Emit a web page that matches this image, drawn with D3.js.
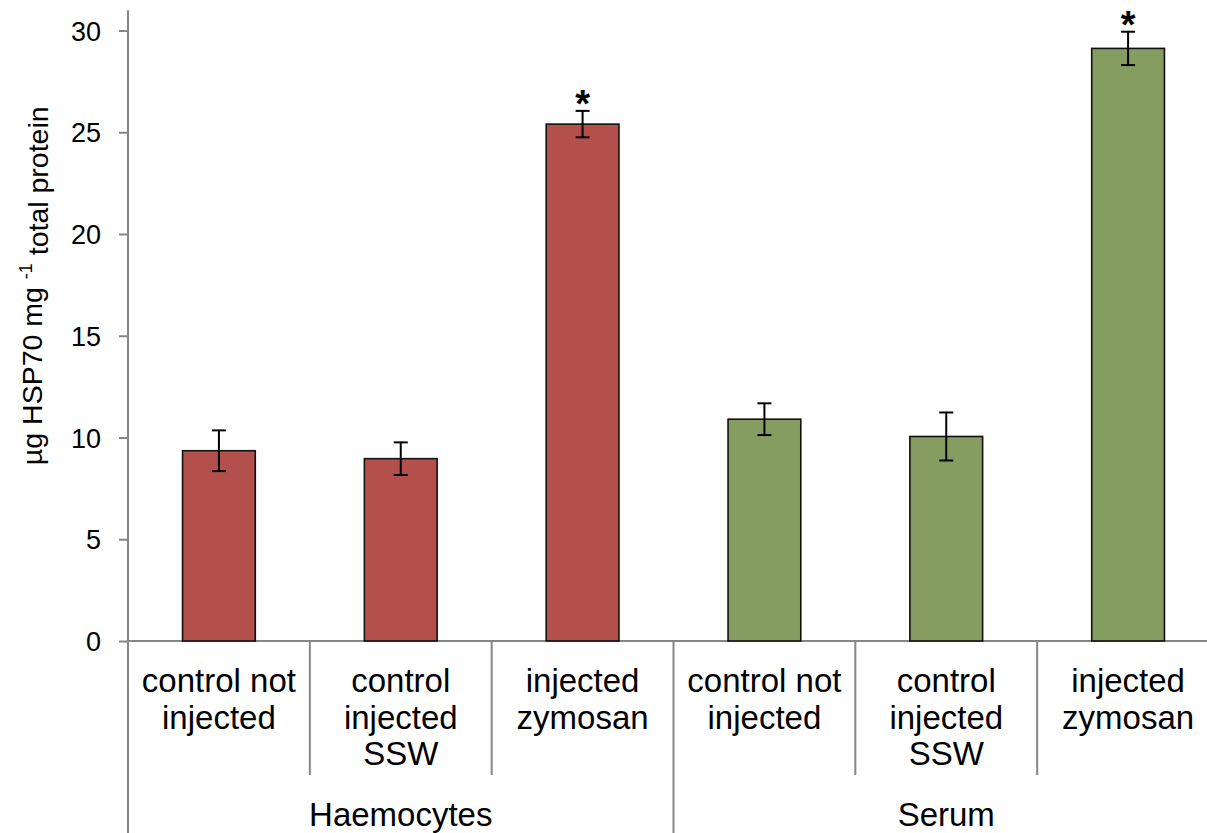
<!DOCTYPE html>
<html lang="en">
<head>
    <meta charset="UTF-8">
    <title>HSP70 in haemocytes and serum</title>
    <script src="https://d3js.org/d3.v7.min.js"></script>
    <style>
        body { margin: 0; background: #fff; }
        text { font-family: "Liberation Sans", Arial, sans-serif; fill: #000; }
    </style>
</head>
<body>
    <svg width="1207" height="833"></svg>

    <script>
        // data
        const groups = ["Haemocytes", "Serum"];
        const treatments = [
            ["control not", "injected"],
            ["control", "injected", "SSW"],
            ["injected", "zymosan"]
        ];
        const haemocyteMeans = [9.35, 8.96, 25.4];
        const haemocyteErrors = [1.0, 0.8, 0.65];
        const serumMeans = [10.9, 10.05, 29.12];
        const serumErrors = [0.78, 1.18, 0.82];
        const significant = [false, false, true];
        const yTicks = [0, 5, 10, 15, 20, 25, 30];
        const groupColors = ["#B4504C", "#869D62"];

        const width = 1207;
        const height = 833;
        const margin = {top: 30.5, left: 128, bottom: 192};
        const plotRight = 1219;

        const svg = d3.select("svg")
            .attr("width", width)
            .attr("height", height);

        // flatten into one row per bar
        const rows = [];
        groups.forEach((g, gi) => {
            const means = gi === 0 ? haemocyteMeans : serumMeans;
            const errs = gi === 0 ? haemocyteErrors : serumErrors;
            treatments.forEach((t, ti) => {
                rows.push({
                    id: gi * treatments.length + ti,
                    group: gi,
                    label: t,
                    value: means[ti],
                    err: errs[ti],
                    star: significant[ti]
                });
            });
        });

        const x = d3.scaleBand()
            .domain(rows.map(d => d.id))
            .range([margin.left, plotRight])
            .padding(0);

        const y = d3.scaleLinear()
            .domain([0, 30])
            .range([height - margin.bottom, margin.top]);

        const barW = x.bandwidth() * 0.4;
        const axisColor = "#868686";

        // y axis
        const yAxis = svg.append("g")
            .attr("transform", `translate(${margin.left},0)`)
            .call(d3.axisLeft(y).tickValues(yTicks).tickSizeInner(9).tickSizeOuter(0).tickPadding(18));
        yAxis.select(".domain").remove();
        yAxis.selectAll(".tick line").attr("stroke", axisColor).attr("stroke-width", 2);
        yAxis.selectAll(".tick text")
            .style("font-size", "27px")
            .attr("dy", "0.36em")
            .attr("fill", "#000");

        // vertical axis line runs from the top down to the bottom of the category labels
        svg.append("line")
            .attr("x1", margin.left).attr("x2", margin.left)
            .attr("y1", y(31)).attr("y2", height)
            .attr("stroke", axisColor).attr("stroke-width", 2);

        // horizontal axis line
        svg.append("line")
            .attr("x1", margin.left).attr("x2", plotRight)
            .attr("y1", y(0)).attr("y2", y(0))
            .attr("stroke", axisColor).attr("stroke-width", 2);

        // category separators: short inside a group, long between groups
        rows.slice(1).forEach(d => {
            const gx = x(d.id);
            const groupEdge = d.id % treatments.length === 0;
            svg.append("line")
                .attr("x1", gx).attr("x2", gx)
                .attr("y1", y(0))
                .attr("y2", groupEdge ? height : y(0) + 134)
                .attr("stroke", axisColor).attr("stroke-width", 2);
        });

        // bars
        svg.selectAll(".bar")
            .data(rows)
            .enter()
            .append("rect")
            .attr("class", "bar")
            .attr("x", d => x(d.id) + (x.bandwidth() - barW) / 2)
            .attr("y", d => y(d.value))
            .attr("width", barW)
            .attr("height", d => y(0) - y(d.value))
            .attr("fill", d => groupColors[d.group])
            .attr("stroke", "#111")
            .attr("stroke-width", 1.6);

        // error bars
        const cx = d => x(d.id) + x.bandwidth() / 2;
        const capW = 7;
        const eb = svg.selectAll(".err")
            .data(rows)
            .enter()
            .append("g")
            .attr("class", "err")
            .attr("stroke", "#000")
            .attr("stroke-width", 2);
        eb.append("line")
            .attr("x1", cx).attr("x2", cx)
            .attr("y1", d => y(d.value + d.err))
            .attr("y2", d => y(d.value - d.err));
        eb.append("line")
            .attr("x1", d => cx(d) - capW).attr("x2", d => cx(d) + capW)
            .attr("y1", d => y(d.value + d.err)).attr("y2", d => y(d.value + d.err));
        eb.append("line")
            .attr("x1", d => cx(d) - capW).attr("x2", d => cx(d) + capW)
            .attr("y1", d => y(d.value - d.err)).attr("y2", d => y(d.value - d.err));

        // significance asterisks
        svg.selectAll(".star")
            .data(rows.filter(d => d.star))
            .enter()
            .append("text")
            .attr("class", "star")
            .attr("x", cx)
            .attr("y", d => y(d.value + d.err) + 6)
            .attr("text-anchor", "middle")
            .style("font-size", "38px")
            .style("font-weight", "bold")
            .text("*");

        // category labels (multi-line)
        const labels = svg.selectAll(".cat")
            .data(rows)
            .enter()
            .append("text")
            .attr("class", "cat")
            .attr("text-anchor", "middle")
            .style("font-size", "33px");
        labels.selectAll("tspan")
            .data(d => d.label.map(line => ({line, cx: cx(d)})))
            .enter()
            .append("tspan")
            .attr("x", d => d.cx)
            .attr("y", (d, i) => y(0) + 51 + i * 36.5)
            .text(d => d.line);

        // group labels
        groups.forEach((g, gi) => {
            const first = x(gi * treatments.length);
            const last = x(gi * treatments.length + treatments.length - 1) + x.bandwidth();
            svg.append("text")
                .attr("x", (first + last) / 2)
                .attr("y", 826)
                .attr("text-anchor", "middle")
                .style("font-size", "33px")
                .text(g);
        });

        // y axis title with superscript
        const title = svg.append("text")
            .attr("transform", "rotate(-90)")
            .attr("x", -(y(0) + y(30)) / 2 + 50)
            .attr("y", 42)
            .attr("text-anchor", "middle")
            .style("font-size", "28.5px");
        title.append("tspan").text("µg HSP70 mg ");
        title.append("tspan").attr("dy", "-0.55em").style("font-size", "18px").text("-1");
        title.append("tspan").attr("dy", "0.55em").text(" total protein");
    </script>
</body>
</html>
